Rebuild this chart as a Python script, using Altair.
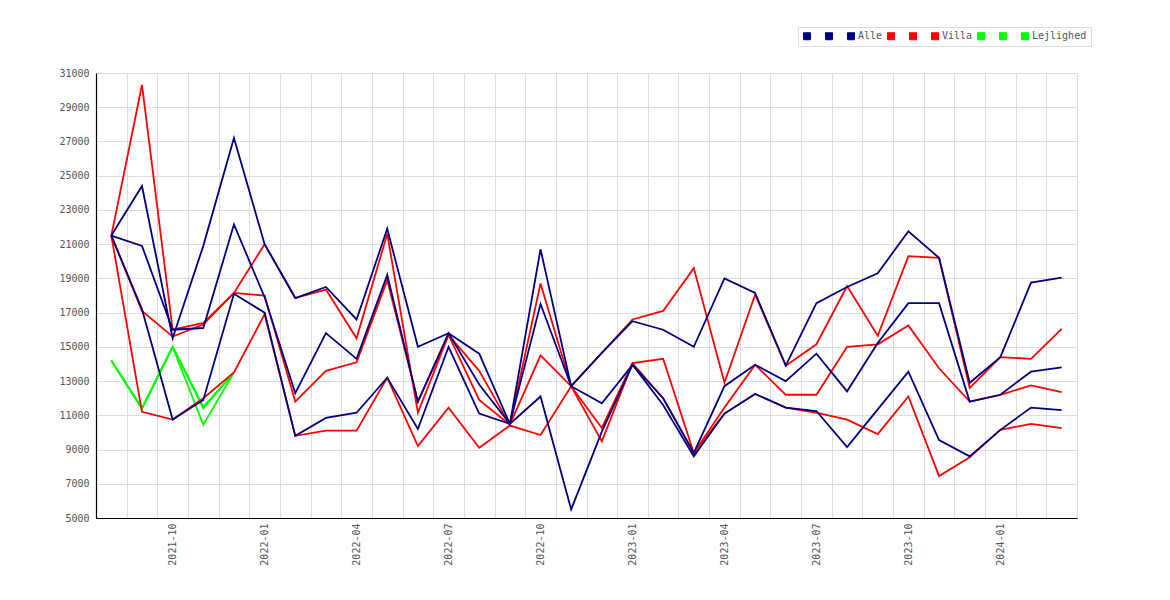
import json

import altair as alt
import pandas as pd

# months on the x axis (one point per month)
months = [
    "2021-08", "2021-09", "2021-10", "2021-11", "2021-12",
    "2022-01", "2022-02", "2022-03", "2022-04", "2022-05", "2022-06",
    "2022-07", "2022-08", "2022-09", "2022-10", "2022-11", "2022-12",
    "2023-01", "2023-02", "2023-03", "2023-04", "2023-05", "2023-06",
    "2023-07", "2023-08", "2023-09", "2023-10", "2023-11", "2023-12",
    "2024-01", "2024-02", "2024-03",
]
tick_months = ["2021-10", "2022-01", "2022-04", "2022-07", "2022-10",
               "2023-01", "2023-04", "2023-07", "2023-10", "2024-01"]

# Alle (navy)
alle_1 = [21500, 24400, 15500, 20900, 27200, 21000, 17850, 18500, 16600, 21900,
          15000, 15800, 14600, 10500, 20700, 12700, 14650, 16500, 16000, 15000,
          19000, 18150, 13900, 17550, 18500, 19300, 21750, 20200, 12900, 14400,
          18750, 19050]
alle_2 = [21500, 20900, 16000, 16100, 22150, 17900, 12300, 15800, 14300, 19200,
          11800, 15800, 12800, 10500, 17500, 12700, 11700, 13950, 12000, 8800,
          12700, 13950, 13000, 14600, 12400, 15230, 17550, 17550, 11800, 12200,
          13550, 13800]
alle_3 = [21500, 17200, 10750, 11900, 18100, 17000, 9800, 10850, 11150, 13200,
          10200, 15000, 11100, 10500, 12100, 5500, 10050, 13950, 11600, 8600,
          11100, 12250, 11450, 11250, 9150, 11350, 13550, 9550, 8600, 10150,
          11450, 11300]

# Villa (red)
villa_1 = [21500, 30300, 16000, 16400, 18150, 21000, 17850, 18350, 15500, 21600,
           11150, 15700, 13600, 10450, 18700, 12700, 14650, 16600, 17100, 19600,
           12900, 18050, 13900, 15150, 18550, 15650, 20300, 20200, 12600, 14400,
           14300, 16050]
villa_2 = [21500, 17100, 15600, 16300, 18150, 18000, 11800, 13600, 14100, 18900,
           11800, 15700, 11900, 10450, 14500, 12700, 10260, 14050, 14300, 8800,
           11450, 13950, 12200, 12200, 15000, 15150, 16250, 13750, 11800, 12200,
           12750, 12350]
villa_3 = [21500, 11200, 10750, 12000, 13500, 16900, 9800, 10100, 10100, 13200,
           9200, 11450, 9100, 10400, 9850, 12700, 9480, 14050, 12000, 8800,
           11100, 12250, 11450, 11150, 10750, 9900, 12100, 7450, 8550, 10150,
           10500, 10250]

# Lejlighed (green), only the first months
lejlighed_1 = [14200, 11400, 15000, 10450, 13500]
lejlighed_2 = [14200, 11400, 15000, 11500, 13500]
lejlighed_3 = [14200, 11400, 15000, 11400, 13500]

series = [
    ("Lejlighed#1", lejlighed_1), ("Lejlighed#2", lejlighed_2), ("Lejlighed", lejlighed_3),
    ("Villa#1", villa_1), ("Villa#2", villa_2), ("Villa", villa_3),
    ("Alle#1", alle_1), ("Alle#2", alle_2), ("Alle", alle_3),
]
rows = []
for name, vals in series:
    for i, v in enumerate(vals):
        rows.append({"serie": name, "i": i, "maaned": months[i], "pris": v})
df = pd.DataFrame(rows)

legend_order = ["Alle#1", "Alle#2", "Alle", "Villa#1", "Villa#2", "Villa",
                "Lejlighed#1", "Lejlighed#2", "Lejlighed"]
legend_colors = ["#000080"] * 3 + ["#ff0000"] * 3 + ["#00ff00"] * 3

# gridlines on month boundaries, labels shifted to mid-month
grid_vals = [k - 0.5 for k in range(len(months) + 1)]
label_list = [m if m in tick_months else "" for m in months]
label_expr = json.dumps(label_list) + "[datum.value + 0.5] || ''"
half_month = 981 / len(months) / 2

font = "DejaVu Sans Mono"

# unnamed entries get a blank (braille blank keeps its width)
legend = alt.Legend(title=None, orient="none", legendX=702, legendY=-46,
                    direction="horizontal", columns=9,
                    symbolType="square", symbolSize=49,
                    symbolStrokeColor="#555", symbolStrokeWidth=1,
                    symbolOpacity=1, labelOffset=2, columnPadding=2,
                    padding=4, strokeColor="#ddd", fillColor="white",
                    labelExpr="indexof(datum.label, '#') >= 0 ? '\u2800' : datum.label")

base = alt.Chart(df).encode(
    x=alt.X("i:Q",
            scale=alt.Scale(domain=[-0.5, len(months) - 0.5], nice=False, zero=False),
            axis=alt.Axis(title=None, values=grid_vals, labelExpr=label_expr,
                          labelAngle=-90, labelOffset=half_month, labelOverlap=False,
                          labelFlush=False, ticks=False, labelPadding=5)),
    y=alt.Y("pris:Q",
            scale=alt.Scale(domain=[5000, 31000], nice=False, zero=False),
            axis=alt.Axis(title=None, values=list(range(5000, 31001, 2000)),
                          format="d", ticks=False, labelPadding=7)),
    color=alt.Color("serie:N",
                    scale=alt.Scale(domain=legend_order, range=legend_colors),
                    legend=legend),
)

# empty square layer only to give the legend filled swatches
swatches = base.mark_square(size=49, stroke="#555", strokeWidth=1).transform_filter("false")
lines = base.mark_line(strokeWidth=1.8).encode(detail="serie:N")

chart = alt.layer(swatches, lines).properties(
    width=981,
    height=445,
    padding={"left": 50, "top": 18, "right": 5, "bottom": 5},
).configure_axis(
    labelFont=font,
    labelFontSize=10,
    labelColor="#555",
    gridColor="#dddddd",
    gridWidth=1,
    domainColor="#000",
    domainWidth=1.2,
).configure_legend(
    labelFont=font,
    labelFontSize=10,
    labelColor="#555",
).configure_view(
    stroke=None,
)

chart.save("out.html", embed_options={"renderer": "svg", "actions": False})
